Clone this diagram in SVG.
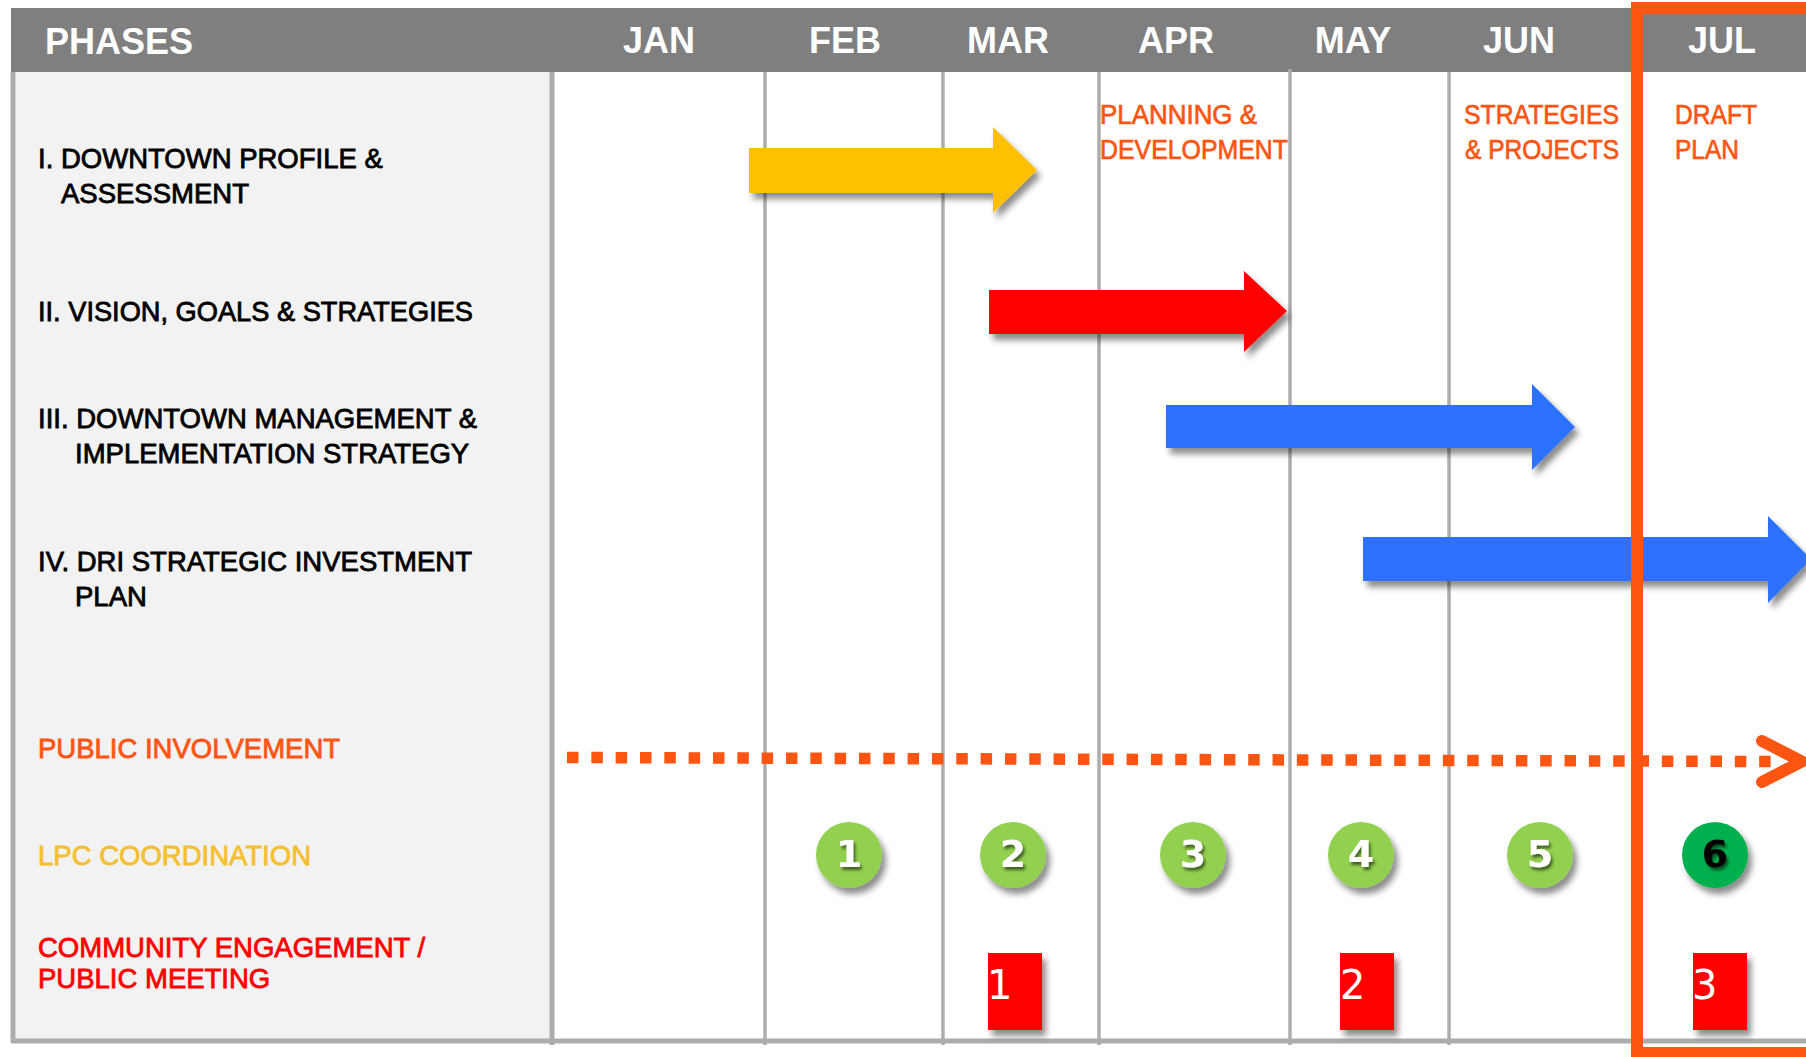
<svg xmlns="http://www.w3.org/2000/svg" width="1806" height="1057" viewBox="0 0 1806 1057">
<defs>
<style>
.hdr{font-family:"Liberation Sans",Arial,sans-serif;font-weight:bold;font-size:36px;fill:#ffffff}
.mon{text-anchor:middle}
.lbl{font-family:"Liberation Sans",Arial,sans-serif;font-size:27.5px;fill:#000000;stroke:#000000;stroke-width:0.8}
.olbl{font-family:"Liberation Sans",Arial,sans-serif;font-size:27.5px;fill:#fe5512;stroke:#fe5512;stroke-width:0.7}
.grid{stroke:#afabab;stroke-width:3.5;fill:none}
.gridw{stroke:#afabab;stroke-width:5;fill:none}
.circ{font-family:"DejaVu Sans",sans-serif;font-weight:bold;font-size:38px;text-anchor:middle;fill:#ffffff}
.box{font-family:"DejaVu Sans",sans-serif;font-size:40px;fill:#ffffff}
</style>
<filter id="sh" x="-20%" y="-30%" width="150%" height="180%">
<feDropShadow dx="4" dy="6" stdDeviation="3" flood-color="#000" flood-opacity="0.45"/>
</filter>
<filter id="tsh" x="-30%" y="-30%" width="180%" height="180%">
<feDropShadow dx="2" dy="3" stdDeviation="1.5" flood-color="#000" flood-opacity="0.55"/>
</filter>
</defs>
<rect width="1806" height="1057" fill="#ffffff"/>

<g id="header">
<rect x="11" y="8" width="1795" height="64" fill="#7f7f7f"/>
<text class="hdr" x="45" y="54">PHASES</text>
<text class="hdr mon" x="659" y="53">JAN</text>
<text class="hdr mon" x="845" y="53">FEB</text>
<text class="hdr mon" x="1008" y="53">MAR</text>
<text class="hdr mon" x="1176" y="53">APR</text>
<text class="hdr mon" x="1353" y="53">MAY</text>
<text class="hdr mon" x="1519" y="53">JUN</text>
<text class="hdr mon" x="1722" y="53">JUL</text>
</g>

<g id="panel">
<rect x="13" y="72" width="539" height="969" fill="#f2f2f2"/>
<line class="gridw" x1="13" y1="72" x2="13" y2="1043"/>
<line class="gridw" x1="552" y1="72" x2="552" y2="1045"/>
<text class="lbl" x="38" y="168">I. DOWNTOWN PROFILE &amp;</text>
<text class="lbl" x="61" y="203">ASSESSMENT</text>
<text class="lbl" x="38" y="321" textLength="435" lengthAdjust="spacingAndGlyphs">II. VISION, GOALS &amp; STRATEGIES</text>
<text class="lbl" x="38" y="428">III. DOWNTOWN MANAGEMENT &amp;</text>
<text class="lbl" x="75" y="463">IMPLEMENTATION STRATEGY</text>
<text class="lbl" x="38" y="571">IV. DRI STRATEGIC INVESTMENT</text>
<text class="lbl" x="75" y="606">PLAN</text>
<text class="lbl" x="38" y="758" style="fill:#fe5512;stroke:#fe5512">PUBLIC INVOLVEMENT</text>
<text class="lbl" x="38" y="865" style="fill:#f5bf30;stroke:#f5bf30">LPC COORDINATION</text>
<text class="lbl" x="38" y="957" style="fill:#ff0000;stroke:#ff0000">COMMUNITY ENGAGEMENT /</text>
<text class="lbl" x="38" y="988" style="fill:#ff0000;stroke:#ff0000">PUBLIC MEETING</text>
</g>

<g id="grid">
<line class="grid" x1="765" y1="72" x2="765" y2="1045"/>
<line class="grid" x1="943" y1="72" x2="943" y2="1045"/>
<line class="grid" x1="1099" y1="72" x2="1099" y2="1045"/>
<line class="grid" x1="1290" y1="69" x2="1290" y2="1045"/>
<line class="grid" x1="1449" y1="72" x2="1449" y2="1045"/>
<line class="grid" x1="1637" y1="72" x2="1637" y2="1045"/>
<line class="gridw" x1="11" y1="1041" x2="1806" y2="1041"/>
</g>

<g id="stage-labels">
<text class="olbl" x="1100" y="124" textLength="157" lengthAdjust="spacingAndGlyphs">PLANNING &amp;</text>
<text class="olbl" x="1100" y="159" textLength="188" lengthAdjust="spacingAndGlyphs">DEVELOPMENT</text>
<text class="olbl" x="1464" y="124" textLength="155" lengthAdjust="spacingAndGlyphs">STRATEGIES</text>
<text class="olbl" x="1465" y="159" textLength="154" lengthAdjust="spacingAndGlyphs">&amp; PROJECTS</text>
<text class="olbl" x="1675" y="124" textLength="82" lengthAdjust="spacingAndGlyphs">DRAFT</text>
<text class="olbl" x="1675" y="159" textLength="64" lengthAdjust="spacingAndGlyphs">PLAN</text>
</g>

<g id="phase1-arrow" filter="url(#sh)">
<polygon points="749,148 993,148 993,127 1037,170 993,213 993,193 749,193" fill="#ffc000"/>
</g>
<g id="phase2-arrow" filter="url(#sh)">
<polygon points="989,290 1244,290 1244,271 1287,311 1244,352 1244,334 989,334" fill="#ff0000"/>
</g>
<g id="phase3-arrow" filter="url(#sh)">
<polygon points="1166,405 1532,405 1532,384 1575,427 1532,470 1532,448 1166,448" fill="#2f71fe"/>
</g>
<g id="phase4-arrow" filter="url(#sh)">
<polygon points="1363,537 1768,537 1768,516 1811,559 1768,603 1768,581 1363,581" fill="#2f71fe"/>
</g>

<g id="connectors">
<line x1="567" y1="757.5" x2="1771" y2="761.5" stroke="#fe5512" stroke-width="11.5" stroke-dasharray="11.5 12.83"/>
<polyline points="1762,741 1802,761.5 1762,782" fill="none" stroke="#fe5512" stroke-width="12" stroke-linecap="round" stroke-linejoin="round"/>
</g>

<g id="lpc-1"><circle cx="849" cy="855" r="33" fill="#92d050" filter="url(#sh)"/><text class="circ" x="849" y="867" filter="url(#tsh)">1</text></g>
<g id="lpc-2"><circle cx="1013" cy="855" r="33" fill="#92d050" filter="url(#sh)"/><text class="circ" x="1013" y="867" filter="url(#tsh)">2</text></g>
<g id="lpc-3"><circle cx="1193" cy="855" r="33" fill="#92d050" filter="url(#sh)"/><text class="circ" x="1193" y="867" filter="url(#tsh)">3</text></g>
<g id="lpc-4"><circle cx="1361" cy="855" r="33" fill="#92d050" filter="url(#sh)"/><text class="circ" x="1361" y="867" filter="url(#tsh)">4</text></g>
<g id="lpc-5"><circle cx="1540" cy="855" r="33" fill="#92d050" filter="url(#sh)"/><text class="circ" x="1540" y="867" filter="url(#tsh)">5</text></g>
<g id="lpc-6"><circle cx="1715" cy="855" r="33" fill="#00b050" filter="url(#sh)"/><text class="circ" x="1715" y="867" style="fill:#000000" filter="url(#tsh)">6</text></g>

<g id="meeting-1"><rect x="988" y="953" width="54" height="77" fill="#ff0000" filter="url(#sh)"/><text class="box" x="987" y="999">1</text></g>
<g id="meeting-2"><rect x="1340" y="953" width="54" height="77" fill="#ff0000" filter="url(#sh)"/><text class="box" x="1340" y="999">2</text></g>
<g id="meeting-3"><rect x="1693" y="953" width="54" height="77" fill="#ff0000" filter="url(#sh)"/><text class="box" x="1692" y="999">3</text></g>

<g id="current-highlight">
<rect x="1637" y="8" width="300" height="1045" fill="none" stroke="#fe5512" stroke-width="12"/>
</g>
</svg>
